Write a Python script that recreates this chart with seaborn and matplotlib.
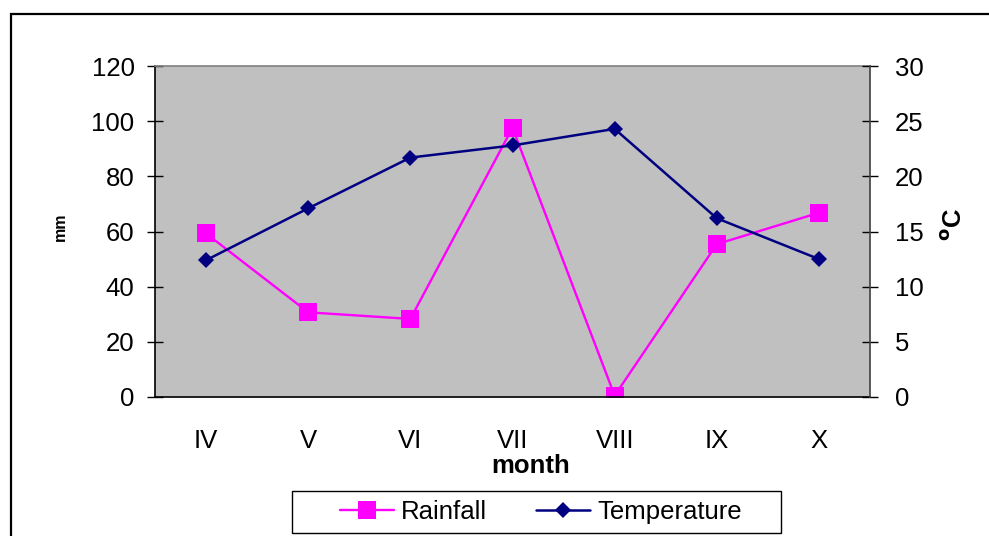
import numpy as np
import pandas as pd
import seaborn as sns
import matplotlib.pyplot as plt
from matplotlib.patches import Rectangle

# data
months = ["IV", "V", "VI", "VII", "VIII", "IX", "X"]
rainfall = [59.3, 30.7, 28.3, 97.6, 0.5, 55.4, 66.8]
temperature = [12.4, 17.1, 21.7, 22.8, 24.3, 16.2, 12.5]
rain_ticks = [0, 20, 40, 60, 80, 100, 120]
temp_ticks = [0, 5, 10, 15, 20, 25, 30]

df = pd.DataFrame({"month": months, "rainfall": rainfall, "temperature": temperature})
df["pos"] = np.arange(len(df))

sns.set_style("white")
plt.rcParams["font.family"] = ["Liberation Sans", "DejaVu Sans"]
plt.rcParams["text.color"] = "black"
plt.rcParams["axes.labelcolor"] = "black"
plt.rcParams["xtick.color"] = "black"
plt.rcParams["ytick.color"] = "black"
FS = 18.5

fig = plt.figure(figsize=(9.89, 5.36), dpi=100)
ax = fig.add_axes([155 / 989, 1 - 397 / 536, 715 / 989, 331 / 536])
ax.set_facecolor("#C0C0C0")

sns.lineplot(data=df, x="pos", y="rainfall", ax=ax, color="#FF00FF", lw=1.7,
             marker="s", markersize=12.5, markeredgewidth=0, label="Rainfall")

ax2 = ax.twinx()
sns.lineplot(data=df, x="pos", y="temperature", ax=ax2, color="#000080", lw=1.8,
             marker="D", markersize=8, markeredgewidth=0, label="Temperature")

# axes limits / ticks
ax.set_xlim(-0.5, len(months) - 0.5)
ax.set_ylim(0, 120)
ax2.set_ylim(0, 30)
ax.set_yticks(rain_ticks)
ax2.set_yticks(temp_ticks)
ax.set_xticks(np.arange(len(months) + 1) - 0.5)
ax.set_xticklabels([])
ax.set_xticks(df["pos"], minor=True)
ax.set_xticklabels(months, minor=True)

ax.tick_params(axis="y", direction="inout", length=11.5, width=1, pad=9, labelsize=FS)
ax.tick_params(axis="x", which="major", direction="inout", length=11, width=1)
ax.tick_params(axis="x", which="minor", length=0, pad=23, labelsize=FS)
ax2.tick_params(axis="y", direction="inout", length=11.5, width=1, pad=12, labelsize=FS)

# labels
ax.set_xlabel("month", fontsize=FS, fontweight="bold")
ax.xaxis.set_label_coords(0.526, -0.229)
ax.xaxis.label.set_va("baseline")
ax.set_ylabel("mm", fontsize=11.5, fontweight="bold")
ax.yaxis.set_label_coords(-0.133, 0.514)
ax.yaxis.label.set_va("center")
ax2.set_ylabel(r"$^{\mathbf{o}}$C", fontsize=FS, fontweight="bold")
ax2.yaxis.set_label_coords(1.117, 0.52)
ax2.yaxis.label.set_va("center")

# spines
for s in ["left", "bottom"]:
    ax.spines[s].set_color("black")
    ax.spines[s].set_linewidth(1.2)
ax.spines["top"].set_color("#808080")
ax.spines["top"].set_linewidth(1.2)
ax.spines["right"].set_visible(False)
for s in ["left", "bottom", "top"]:
    ax2.spines[s].set_visible(False)
ax2.spines["right"].set_color("#404040")
ax2.spines["right"].set_linewidth(1.2)

# legend: entries without frame, box drawn separately
h1, l1 = ax.get_legend_handles_labels()
h2, l2 = ax2.get_legend_handles_labels()
ax.get_legend().remove()
ax2.get_legend().remove()
fig.legend(h1 + h2, l1 + l2, loc="center", bbox_to_anchor=(541 / 989, 1 - 512 / 536),
           ncol=2, fontsize=FS, frameon=False, handlelength=2.1, columnspacing=1.9,
           handletextpad=0.3, borderpad=0.2)
fig.add_artist(Rectangle((292 / 989, 1 - 533 / 536), 489 / 989, 42 / 536,
                         transform=fig.transFigure, fill=False, edgecolor="black", lw=1))

# outer chart border (only top and left visible in the crop)
fig.add_artist(Rectangle((11 / 989, -0.5), 2, 0.5 + 1 - 13.5 / 536, transform=fig.transFigure,
                         fill=False, edgecolor="black", lw=1.6, clip_on=False))

fig.savefig("out.png", dpi=100)
